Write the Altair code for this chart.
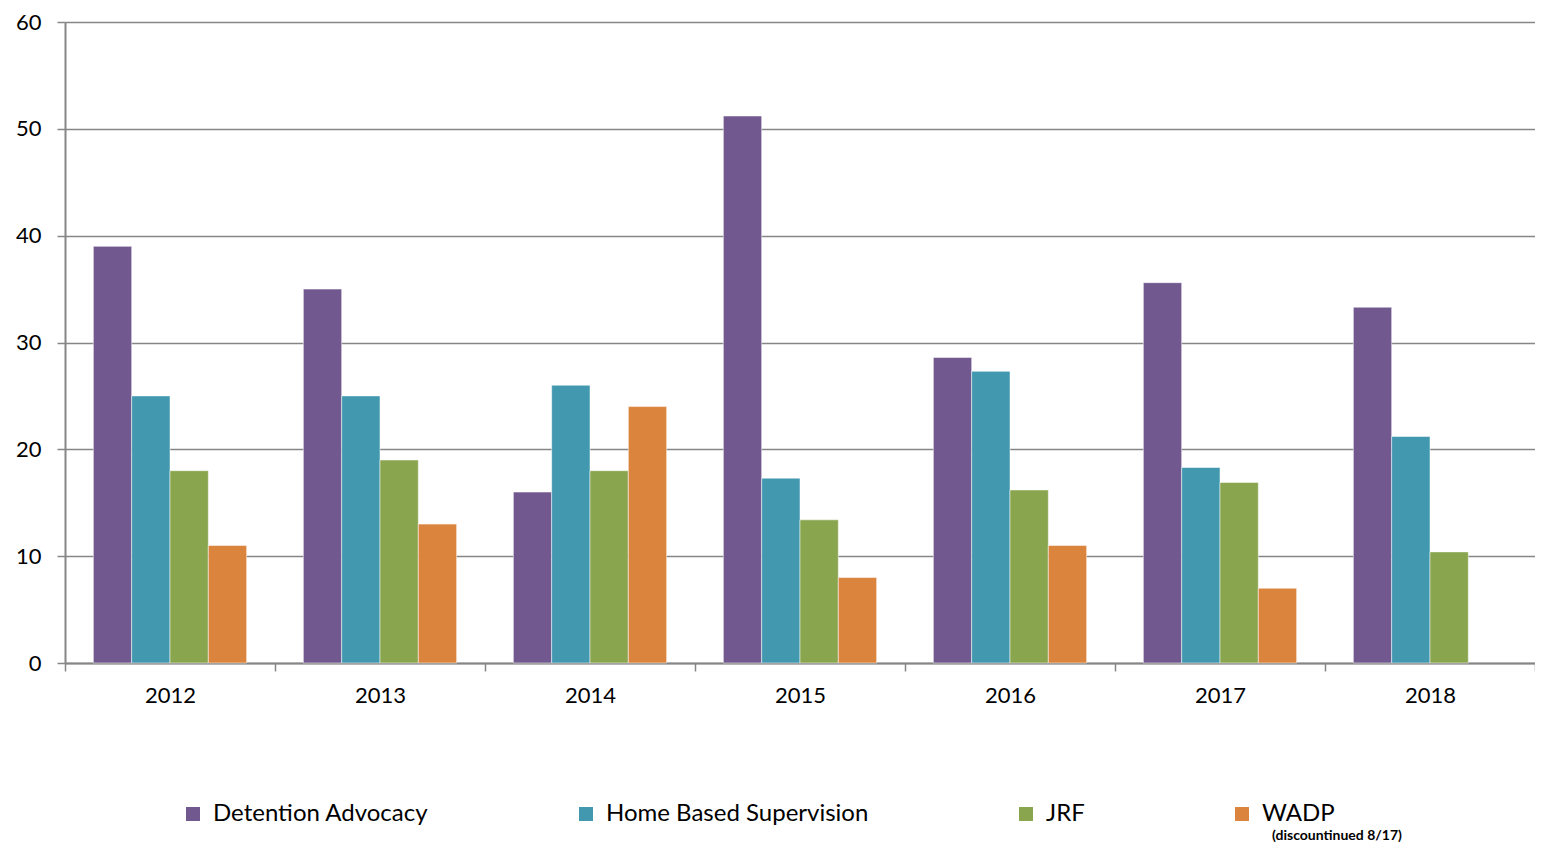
import altair as alt
import pandas as pd

years = ["2012", "2013", "2014", "2015", "2016", "2017", "2018"]
series = ["Detention Advocacy", "Home Based Supervision", "JRF", "WADP"]
detention = [39, 35, 16, 51.2, 28.6, 35.6, 33.3]
home_based = [25, 25, 26, 17.3, 27.3, 18.3, 21.2]
jrf = [18, 19, 18, 13.4, 16.2, 16.9, 10.4]
wadp = [11, 13, 24, 8, 11, 7, None]
colors = ["#71588F", "#4198AF", "#89A54E", "#DB843D"]

rows = []
for name, vals in zip(series, [detention, home_based, jrf, wadp]):
    for y, v in zip(years, vals):
        if v is not None:
            rows.append({"year": y, "series": name, "value": v})
df = pd.DataFrame(rows)

grey = "#868686"

bars = alt.Chart(df).mark_bar(stroke="white", strokeWidth=1, strokeOpacity=0.5).encode(
    x=alt.X(
        "year:N",
        sort=years,
        title=None,
        scale=alt.Scale(paddingInner=0, paddingOuter=0),
        axis=alt.Axis(
            labelAngle=0,
            tickBand="extent",
            ticks=True,
            tickSize=8,
            tickColor=grey,
            tickWidth=1.5,
            domainColor=grey,
            domainWidth=2,
            labelFontSize=22,
            labelColor="black",
            labelPadding=14,
            grid=False,
        ),
    ),
    xOffset=alt.XOffset("series:N", sort=series, scale=alt.Scale(domain=series, paddingInner=0, paddingOuter=0.74)),
    y=alt.Y(
        "value:Q",
        title=None,
        scale=alt.Scale(domain=[0, 60], nice=False),
        axis=alt.Axis(
            values=[0, 10, 20, 30, 40, 50, 60],
            grid=True,
            gridColor=grey,
            gridWidth=1.5,
            tickSize=8,
            tickColor=grey,
            tickWidth=1.5,
            domainColor=grey,
            domainWidth=2,
            labelFontSize=22,
            labelColor="black",
            labelPadding=16,
        ),
    ),
    color=alt.Color(
        "series:N",
        sort=series,
        scale=alt.Scale(domain=series, range=colors),
        legend=alt.Legend(
            title=None,
            orient="none",
            direction="horizontal",
            legendX=116,
            legendY=780,
            symbolType="square",
            symbolSize=196,
            symbolStrokeWidth=0,
            labelFontSize=24,
            labelColor="black",
            labelOffset=8,
            labelLimit=400,
            columnPadding=145,
            padding=0,
        ),
    ),
)

note = alt.Chart(pd.DataFrame({"t": ["(discountinued 8/17)"]})).mark_text(
    fontSize=14, fontWeight="bold", color="black", align="center", baseline="middle"
).encode(text="t:N", x=alt.value(1272), y=alt.value(814))

chart = alt.layer(bars, note).properties(
    width=1470,
    height=641,
    autosize=alt.AutoSizeParams(type="none"),
    padding={"left": 57, "top": 14, "right": 0, "bottom": 180},
).configure(font="Lato").configure_view(stroke=None)

chart.save("out.html", embed_options={"renderer": "svg", "actions": False})
